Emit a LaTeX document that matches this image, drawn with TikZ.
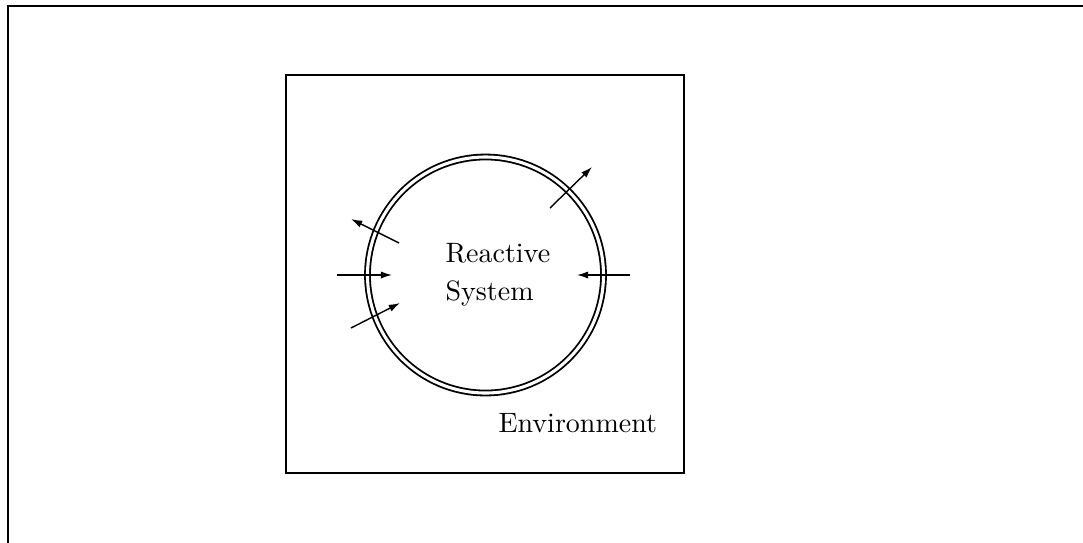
\documentclass[tikz,border=0pt]{standalone}
\usetikzlibrary{arrows.meta}
\begin{document}
\begin{tikzpicture}[x=0.357pt,y=-0.357pt,
  frame/.style={line width=0.8pt},
  flow/.style={line width=0.5pt,-{Latex[length=4pt,width=2.6pt]}},
  lbl/.style={font=\fontsize{10}{12}\selectfont,inner sep=0pt}]
\useasboundingbox (0,0) rectangle (1083,542);
\draw[frame] (8,560) -- (8,6) -- (1100,6);
\node[draw,frame,minimum width=398*0.357pt,minimum height=398*0.357pt,inner sep=0pt] (env) at (485,274) {};
\node[draw,circle,line width=0.65pt,double,double distance=1.1pt,minimum size=236*0.357pt,inner sep=0pt] (sys) at (485.5,275) {};
\node[lbl,anchor=west] (t1) at (445,253) {Reactive};
\node[lbl,anchor=west] (t2) at (445,293) {System};
\node[lbl,anchor=base west] (t3) at (498,432) {Environment};
\coordinate (a1s) at (550,208); \coordinate (a1e) at (592,167);
\coordinate (a2s) at (399,243); \coordinate (a2e) at (351,219);
\coordinate (a3s) at (337,275); \coordinate (a3e) at (392,275);
\coordinate (a4s) at (351,328); \coordinate (a4e) at (400,303);
\coordinate (a5s) at (630,275); \coordinate (a5e) at (577,275);
\draw[flow] (a1s) -- (a1e);
\draw[flow] (a2s) -- (a2e);
\draw[flow] (a3s) -- (a3e);
\draw[flow] (a4s) -- (a4e);
\draw[flow] (a5s) -- (a5e);
\end{tikzpicture}
\end{document}
